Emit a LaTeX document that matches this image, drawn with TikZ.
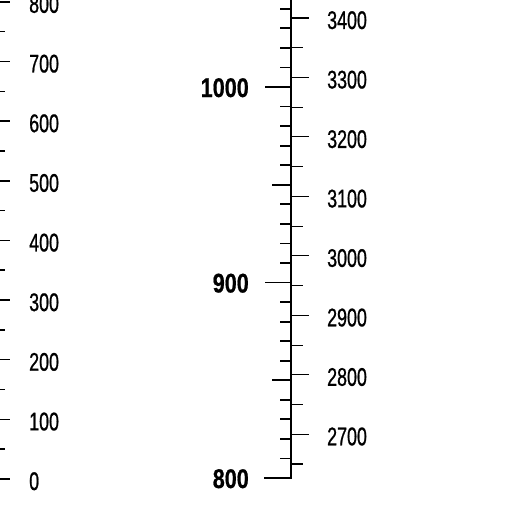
\documentclass[tikz,border=0pt]{standalone}
\usepackage{fontspec}
\newfontfamily\condfont[FakeStretch=0.7,FakeBold=0.8]{Liberation Sans}
\newfontfamily\condbold[FakeStretch=0.8,FakeBold=0.6]{Liberation Sans Bold}
\begin{document}
\begin{tikzpicture}[x=1pt,y=-1pt,
  lefttick/.style={line width=1.5pt},
  axisline/.style={line width=2.2pt},
  midtick/.style={line width=1.8pt},
  righttick/.style={line width=1.1pt},
  plainlab/.style={inner sep=0pt,font=\condfont\fontsize{25.5}{25.5}\selectfont},
  boldlab/.style={inner sep=0pt,font=\condbold\fontsize{27}{27}\selectfont}]
\useasboundingbox (0,0) rectangle (528,520);
% left scale 0..800
\foreach \v in {0,100,...,800}{
  \draw[lefttick] (0,{479-\v*0.5965}) -- (10,{479-\v*0.5965});
  \node[plainlab,anchor=base west] (L\v) at (29,{479-\v*0.5965+11}) {\v};
}
\foreach \v in {50,150,...,750}{
  \draw[lefttick] (0,{479-\v*0.5965}) -- (5,{479-\v*0.5965});
}
% middle axis
\foreach \u in {810,820,...,1040}{
  \draw[midtick] (280,{478-(\u-800)*1.955}) -- (291,{478-(\u-800)*1.955});
}
\foreach \u in {850,950}{
  \draw[midtick] (272,{478-(\u-800)*1.955}) -- (291,{478-(\u-800)*1.955});
}
\foreach \u in {900,1000}{
  \draw[midtick] (265,{478-(\u-800)*1.955}) -- (291,{478-(\u-800)*1.955});
  \node[boldlab,anchor=base east] (M\u) at (249,{478-(\u-800)*1.955+10}) {\u};
}
\draw[axisline,line cap=rect] (265,478) -- (291,478) -- (291,-5);
\node[boldlab,anchor=base east] (M800) at (249,488) {800};
% right scale
\foreach \w in {2650,2750,...,3450}{
  \draw[righttick] (291,{464-(\w-2650)*0.5947}) -- (303,{464-(\w-2650)*0.5947});
}
\foreach \w in {2700,2800,...,3400}{
  \draw[righttick] (291,{464-(\w-2650)*0.5947}) -- (309,{464-(\w-2650)*0.5947});
  \node[plainlab,anchor=base west] (R\w) at (327,{464-(\w-2650)*0.5947+11}) {\w};
}
\end{tikzpicture}
\end{document}
